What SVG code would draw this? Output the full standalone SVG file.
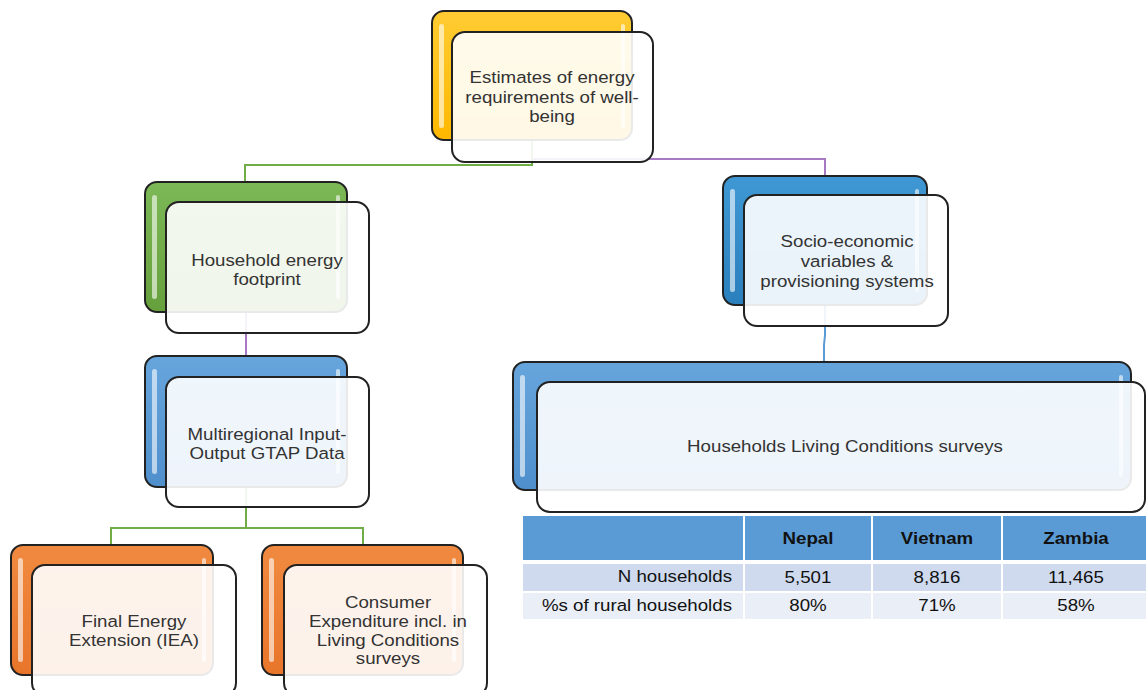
<svg xmlns="http://www.w3.org/2000/svg" width="1146" height="690" viewBox="0 0 1146 690">
<defs>
<linearGradient id="gY" x1="0" y1="0" x2="0" y2="1"><stop offset="0" stop-color="#ffcc33"/><stop offset="1" stop-color="#ffb800"/></linearGradient>
<linearGradient id="gG" x1="0" y1="0" x2="0" y2="1"><stop offset="0" stop-color="#7cb856"/><stop offset="1" stop-color="#66a03c"/></linearGradient>
<linearGradient id="gB" x1="0" y1="0" x2="0" y2="1"><stop offset="0" stop-color="#3f98d4"/><stop offset="1" stop-color="#2a7fbd"/></linearGradient>
<linearGradient id="gB2" x1="0" y1="0" x2="0" y2="1"><stop offset="0" stop-color="#66a5dc"/><stop offset="1" stop-color="#4f8fcc"/></linearGradient>
<linearGradient id="gO" x1="0" y1="0" x2="0" y2="1"><stop offset="0" stop-color="#f08a40"/><stop offset="1" stop-color="#e8752a"/></linearGradient>
<style>
.back{stroke:#222;stroke-width:2}
.front{fill:#fff;fill-opacity:0.9;stroke:#222;stroke-width:2}
.hl{fill:#fff;fill-opacity:0.6}
.t{font-family:"Liberation Sans",Arial,sans-serif;font-size:17px;fill:#333;text-anchor:middle}
.tt{font-family:"Liberation Sans",Arial,sans-serif;font-size:17px;fill:#111}
.th{font-weight:bold;text-anchor:middle}
.tc{text-anchor:middle}
.tr{text-anchor:end}
.cg{fill:none;stroke:#70ad47;stroke-width:2}
.cp{fill:none;stroke:#a679c2;stroke-width:2}
.cb{fill:none;stroke:#5b9bd5;stroke-width:2}
</style>
</defs>

<g id="connectors">
<polyline class="cg" points="532,140 532,165 245,165 245,182"/>
<polyline class="cp" points="532,159 825,159 825,176"/>
<polyline class="cp" points="246,312 246,356"/>
<polyline class="cb" points="825,305 825,335 824,345 824,362"/>
<polyline class="cg" points="246,487 246,528 111,528 111,545"/>
<polyline class="cg" points="246,528 363,528 363,545"/>
</g>

<g id="node-estimates">
<rect class="back" x="432" y="11" width="200" height="129" rx="12" fill="url(#gY)"/>
<rect class="hl" x="439" y="24" width="5" height="104" rx="2.5" fill="#fff59a"/>
<rect class="hl" x="621" y="24" width="4" height="104" rx="2"/>
<rect class="front" x="452" y="32" width="201" height="130" rx="13"/>
<g class="t" transform="translate(552,0) scale(1.1,1)"><text x="0" y="83">Estimates of energy</text><text x="0" y="103">requirements of well-</text><text x="0" y="122">being</text></g>
</g>

<g id="node-footprint">
<rect class="back" x="145" y="182" width="202" height="130" rx="12" fill="url(#gG)"/>
<rect class="hl" x="152" y="195" width="5" height="104" rx="2.5"/>
<rect class="hl" x="336" y="195" width="4" height="104" rx="2"/>
<rect class="front" x="166" y="202" width="203" height="131" rx="13"/>
<g class="t" transform="translate(267,0) scale(1.1,1)"><text x="0" y="266">Household energy</text><text x="0" y="285">footprint</text></g>
</g>

<g id="node-socio">
<rect class="back" x="723" y="176" width="204" height="129" rx="12" fill="url(#gB)"/>
<rect class="hl" x="730" y="189" width="5" height="103" rx="2.5"/>
<rect class="hl" x="915" y="189" width="4" height="103" rx="2"/>
<rect class="front" x="744" y="195" width="204" height="131" rx="13"/>
<g class="t" transform="translate(847,0) scale(1.1,1)"><text x="0" y="247">Socio-economic</text><text x="0" y="267">variables &amp;</text><text x="0" y="287">provisioning systems</text></g>
</g>

<g id="node-mrio">
<rect class="back" x="145" y="356" width="202" height="131" rx="12" fill="url(#gB2)"/>
<rect class="hl" x="152" y="369" width="5" height="105" rx="2.5"/>
<rect class="hl" x="336" y="369" width="4" height="105" rx="2"/>
<rect class="front" x="166" y="377" width="203" height="130" rx="13"/>
<g class="t" transform="translate(267,0) scale(1.1,1)"><text x="0" y="440">Multiregional Input-</text><text x="0" y="459">Output GTAP Data</text></g>
</g>

<g id="node-hlcs">
<rect class="back" x="513" y="362" width="618" height="128" rx="12" fill="url(#gB2)"/>
<rect class="hl" x="520" y="375" width="5" height="102" rx="2.5"/>
<rect class="hl" x="1119" y="375" width="4" height="102" rx="2"/>
<rect class="front" x="537" y="382" width="608" height="130" rx="13"/>
<g class="t" transform="translate(845,0) scale(1.1,1)"><text x="0" y="452">Households Living Conditions surveys</text></g>
</g>

<g id="node-iea">
<rect class="back" x="11" y="545" width="202" height="130" rx="12" fill="url(#gO)"/>
<rect class="hl" x="18" y="558" width="5" height="104" rx="2.5"/>
<rect class="hl" x="202" y="558" width="4" height="104" rx="2"/>
<rect class="front" x="32" y="565" width="204" height="131" rx="13"/>
<g class="t" transform="translate(134,0) scale(1.1,1)"><text x="0" y="627">Final Energy</text><text x="0" y="646">Extension (IEA)</text></g>
</g>

<g id="node-consumer">
<rect class="back" x="262" y="545" width="201" height="130" rx="12" fill="url(#gO)"/>
<rect class="hl" x="269" y="558" width="5" height="104" rx="2.5"/>
<rect class="hl" x="452" y="558" width="4" height="104" rx="2"/>
<rect class="front" x="284" y="565" width="203" height="131" rx="13"/>
<g class="t" transform="translate(388,0) scale(1.1,1)"><text x="0" y="608">Consumer</text><text x="0" y="627">Expenditure incl. in</text><text x="0" y="646">Living Conditions</text><text x="0" y="664">surveys</text></g>
</g>

<g id="table">
<g fill="#5b9bd5">
<rect x="523" y="516" width="220" height="44"/>
<rect x="745" y="516" width="126" height="44"/>
<rect x="873" y="516" width="128" height="44"/>
<rect x="1003" y="516" width="143" height="44"/>
</g>
<g fill="#cfdaee">
<rect x="523" y="564" width="220" height="27"/>
<rect x="745" y="564" width="126" height="27"/>
<rect x="873" y="564" width="128" height="27"/>
<rect x="1003" y="564" width="143" height="27"/>
</g>
<g fill="#e9eef7">
<rect x="523" y="593" width="220" height="26"/>
<rect x="745" y="593" width="126" height="26"/>
<rect x="873" y="593" width="128" height="26"/>
<rect x="1003" y="593" width="143" height="26"/>
</g>
<g class="tt th">
<g transform="translate(808,0) scale(1.1,1)"><text x="0" y="544">Nepal</text></g>
<g transform="translate(937,0) scale(1.1,1)"><text x="0" y="544">Vietnam</text></g>
<g transform="translate(1076,0) scale(1.1,1)"><text x="0" y="544">Zambia</text></g>
</g>
<g class="tt tr">
<g transform="translate(732,0) scale(1.1,1)"><text x="0" y="582">N households</text><text x="0" y="611">%s of rural households</text></g>
</g>
<g class="tt tc">
<g transform="translate(808,0) scale(1.1,1)"><text x="0" y="583">5,501</text><text x="0" y="611">80%</text></g>
<g transform="translate(937,0) scale(1.1,1)"><text x="0" y="583">8,816</text><text x="0" y="611">71%</text></g>
<g transform="translate(1076,0) scale(1.1,1)"><text x="0" y="583">11,465</text><text x="0" y="611">58%</text></g>
</g>
</g>
</svg>
